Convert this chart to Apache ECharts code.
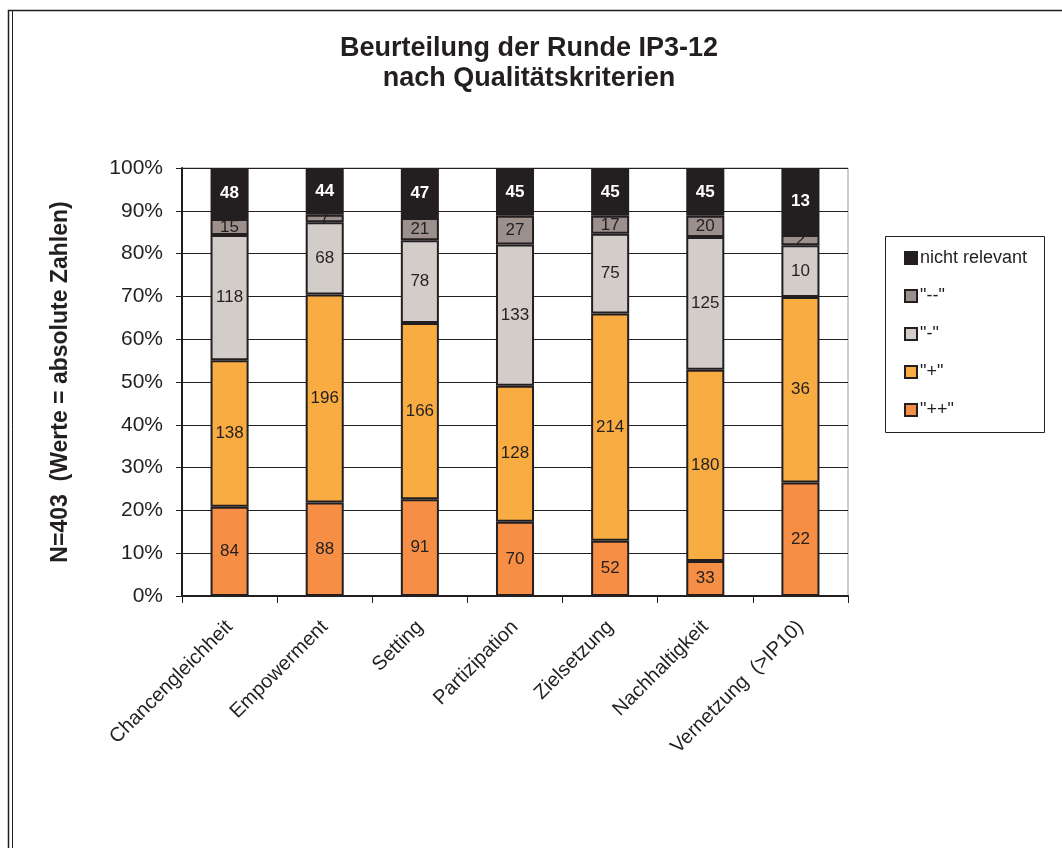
<!DOCTYPE html>
<html><head><meta charset="utf-8">
<script src="https://cdn.jsdelivr.net/npm/echarts@6/dist/echarts.min.js"></script>
<style>html,body{margin:0;padding:0;background:#fff}#c{width:1062px;height:848px}</style>
</head><body><div id="c"></div>
<script>
const categories = ['Chancengleichheit','Empowerment','Setting','Partizipation','Zielsetzung','Nachhaltigkeit','Vernetzung  (>IP10)'];
const seriesNames = ['"++"','"+"','"-"','"--"','nicht relevant'];
const valPlusPlus = [84, 88, 91, 70, 52, 33, 22];
const valPlus = [138, 196, 166, 128, 214, 180, 36];
const valMinus = [118, 68, 78, 133, 75, 125, 10];
const valMinusMinus = [15, 7, 21, 27, 17, 20, 2];
const valNichtRelevant = [48, 44, 47, 45, 45, 45, 13];
const yTicks = [0,10,20,30,40,50,60,70,80,90,100];

const allVals = [valPlusPlus, valPlus, valMinus, valMinusMinus, valNichtRelevant];
const colors = ['#F68F45','#F8AC42','#D3CDCA','#9C908D','#231F20'];
const totals = categories.map((_, j) => allVals.reduce((s, a) => s + a[j], 0));

const chart = echarts.init(document.getElementById('c'));
const FONT = '"Liberation Sans", Arial, sans-serif';
const series = allVals.map((arr, i) => ({
  name: seriesNames[i],
  type: 'bar',
  stack: 'total',
  barWidth: '40%',
  itemStyle: { color: colors[i], borderColor: '#231F20', borderWidth: 2 },
  label: {
    show: true, position: 'inside',
    fontFamily: FONT, fontSize: 17,
    fontWeight: i === 4 ? 'bold' : 'normal',
    color: i === 4 ? '#fff' : '#231F20',
    formatter: p => arr[p.dataIndex]
  },
  data: arr.map((v, j) => v / totals[j] * 100)
}));

chart.setOption({
  animation: false,
  title: {
    text: 'Beurteilung der Runde IP3-12\nnach Qualitätskriterien',
    left: 524, top: 29, textAlign: 'center',
    textStyle: { fontFamily: FONT, fontSize: 27, fontWeight: 'bold', color: '#231F20', lineHeight: 30 }
  },
  graphic: [
    { type: 'rect', shape: { x: 8.5, y: 10.5, width: 1100, height: 900 }, style: { fill: 'none', stroke: '#231F20', lineWidth: 1.5 }, silent: true },
    { type: 'line', shape: { x1: 12.5, y1: 10.5, x2: 12.5, y2: 900 }, style: { stroke: '#231F20', lineWidth: 1 }, silent: true },
    { type: 'rect', shape: { x: 885.5, y: 236.5, width: 159, height: 196 }, style: { fill: '#fff', stroke: '#231F20', lineWidth: 1 }, silent: true, z: 0 }
  ],
  legend: {
    orient: 'vertical', left: 899, top: 244,
    itemWidth: 12, itemHeight: 12, itemGap: 20,
    icon: 'rect',
    data: ['nicht relevant','"--"','"-"','"+"','"++"'],
    textStyle: { fontFamily: FONT, fontSize: 18, color: '#231F20', padding: [0,0,0,-2] },
    z: 10
  },
  grid: { left: 182, right: 214, top: 168, bottom: 252, show: true, borderColor: '#A09898', borderWidth: 1 },
  xAxis: {
    type: 'category', data: categories,
    axisLine: { lineStyle: { color: '#231F20', width: 2 } },
    axisTick: { show: true, length: 7, alignWithLabel: false, lineStyle: { color: '#231F20' } },
    axisLabel: { rotate: 45, margin: 28, fontFamily: FONT, fontSize: 20, color: '#231F20', interval: 0 }
  },
  yAxis: {
    type: 'value', min: 0, max: 100, interval: 10,
    name: 'N=403  (Werte = absolute Zahlen)', nameLocation: 'middle', nameGap: 110, nameRotate: 90,
    nameTextStyle: { fontFamily: FONT, fontSize: 23, fontWeight: 'bold', color: '#231F20' },
    axisLine: { show: true, lineStyle: { color: '#231F20', width: 2 } },
    axisTick: { show: true, length: 6, lineStyle: { color: '#231F20' } },
    axisLabel: { fontFamily: FONT, fontSize: 21, color: '#231F20', margin: 19, formatter: v => yTicks.includes(v) ? v + '%' : '' },
    splitLine: { show: true, lineStyle: { color: '#231F20', width: 1.2 } }
  },
  series: series
});
</script></body></html>
